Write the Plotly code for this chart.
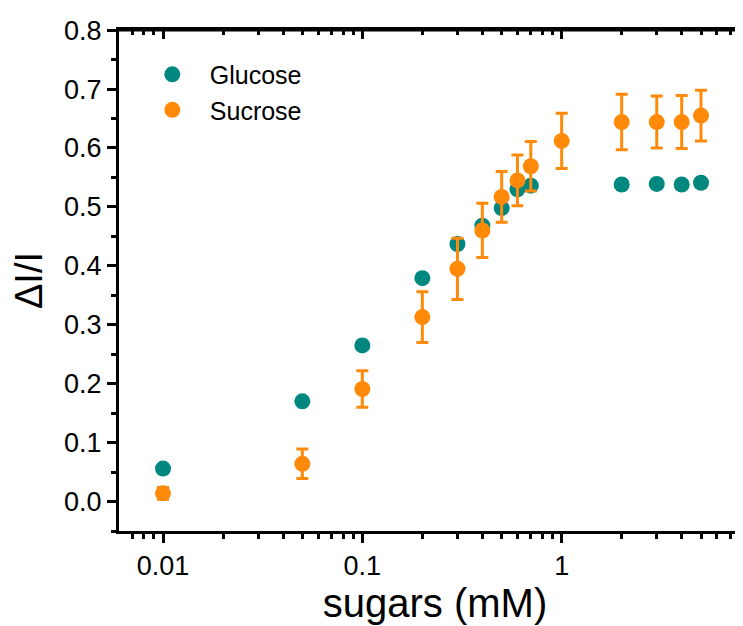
import plotly.graph_objects as go

# Data
glucose_x = [0.01, 0.05, 0.1, 0.2, 0.3, 0.4, 0.5, 0.6, 0.7, 2, 3, 4, 5]
glucose_y = [0.056, 0.170, 0.265, 0.379, 0.437, 0.468, 0.498, 0.530, 0.536, 0.538, 0.539, 0.538, 0.541]

sucrose_x = [0.01, 0.05, 0.1, 0.2, 0.3, 0.4, 0.5, 0.6, 0.7, 1, 2, 3, 4, 5]
sucrose_y = [0.014, 0.064, 0.191, 0.313, 0.395, 0.460, 0.517, 0.545, 0.569, 0.612, 0.644, 0.644, 0.644, 0.655]
sucrose_err = [0.010, 0.025, 0.031, 0.043, 0.052, 0.046, 0.043, 0.043, 0.042, 0.047, 0.047, 0.044, 0.045, 0.043]

x_tickvals = [0.01, 0.1, 1]
x_ticktext = ["0.01", "0.1", "1"]
y_tickvals = [0.0, 0.1, 0.2, 0.3, 0.4, 0.5, 0.6, 0.7, 0.8]
y_ticktext = ["0.0", "0.1", "0.2", "0.3", "0.4", "0.5", "0.6", "0.7", "0.8"]

TEAL = "#00877F"
ORANGE = "#FF8A0A"
FONT = "Liberation Sans, Arial, sans-serif"

fig = go.Figure()
fig.add_trace(go.Scatter(
    x=glucose_x, y=glucose_y, mode="markers", name="Glucose",
    marker=dict(color=TEAL, size=16, line=dict(width=0)),
))
fig.add_trace(go.Scatter(
    x=sucrose_x, y=sucrose_y, mode="markers", name="Sucrose",
    marker=dict(color=ORANGE, size=16, line=dict(width=0)),
    error_y=dict(type="data", array=sucrose_err, visible=True,
                 color=ORANGE, thickness=3, width=6),
))
# invisible trace to activate mirror axes
fig.add_trace(go.Scatter(x=[0.01], y=[0.0], xaxis="x2", yaxis="y2",
                         mode="markers", marker=dict(opacity=0),
                         showlegend=False, hoverinfo="skip"))

xrange = [-2.2208, 0.9498]
yrange = [-0.05, 0.8002]

fig.update_layout(
    width=743, height=626,
    margin=dict(l=111, r=0, t=22, b=103, autoexpand=False),
    paper_bgcolor="white", plot_bgcolor="white",
    font=dict(family=FONT, color="black", size=26),
    showlegend=True,
    legend=dict(x=0.025, y=0.957, xanchor="left", yanchor="top",
                bgcolor="rgba(0,0,0,0)", font=dict(size=25, family=FONT),
                itemsizing="trace", itemwidth=65, tracegroupgap=0),
    xaxis=dict(
        type="log", range=xrange, automargin=False,
        tickvals=x_tickvals, ticktext=x_ticktext,
        ticks="outside", ticklen=9, tickwidth=3, tickcolor="black",
        showline=True, linewidth=3, linecolor="black", mirror=True,
        showgrid=False, zeroline=False,
        tickfont=dict(size=27, family=FONT),
        minor=dict(ticks="outside", ticklen=5, tickwidth=2.5, tickcolor="black",
                   dtick="D1", showgrid=False),
        title=dict(text="sugars (mM)", font=dict(size=40, family=FONT), standoff=6),
    ),
    yaxis=dict(
        range=yrange, automargin=False,
        tickvals=y_tickvals, ticktext=y_ticktext,
        ticks="outside", ticklen=9, tickwidth=3, tickcolor="black",
        showline=True, linewidth=3, linecolor="black",
        showgrid=False, zeroline=False,
        tickfont=dict(size=27, family=FONT),
        minor=dict(ticks="outside", ticklen=5, tickwidth=2.5, tickcolor="black",
                   dtick=0.05, showgrid=False),
        title=dict(text="ΔI/I", font=dict(size=38, family=FONT), standoff=14),
    ),
    xaxis2=dict(
        type="log", range=xrange, overlaying="x", side="top", anchor="y2",
        automargin=False,
        tickvals=x_tickvals, showticklabels=False,
        ticks="inside", ticklen=9, tickwidth=3, tickcolor="black",
        showline=False, showgrid=False, zeroline=False,
        minor=dict(ticks="inside", ticklen=5, tickwidth=2.5, tickcolor="black",
                   dtick="D1", showgrid=False),
    ),
    yaxis2=dict(
        range=yrange, overlaying="y", side="right", anchor="x2",
        automargin=False,
        tickvals=y_tickvals, showticklabels=False,
        ticks="inside", ticklen=9, tickwidth=3, tickcolor="black",
        showline=False, showgrid=False, zeroline=False,
    ),
)

# top frame line of the plot area (axes box border)
fig.add_shape(type="line", xref="paper", yref="paper", x0=0, x1=1, y0=1, y1=1,
              line=dict(color="black", width=3), layer="above")

fig.write_html("out.html", config={"displayModeBar": False})
